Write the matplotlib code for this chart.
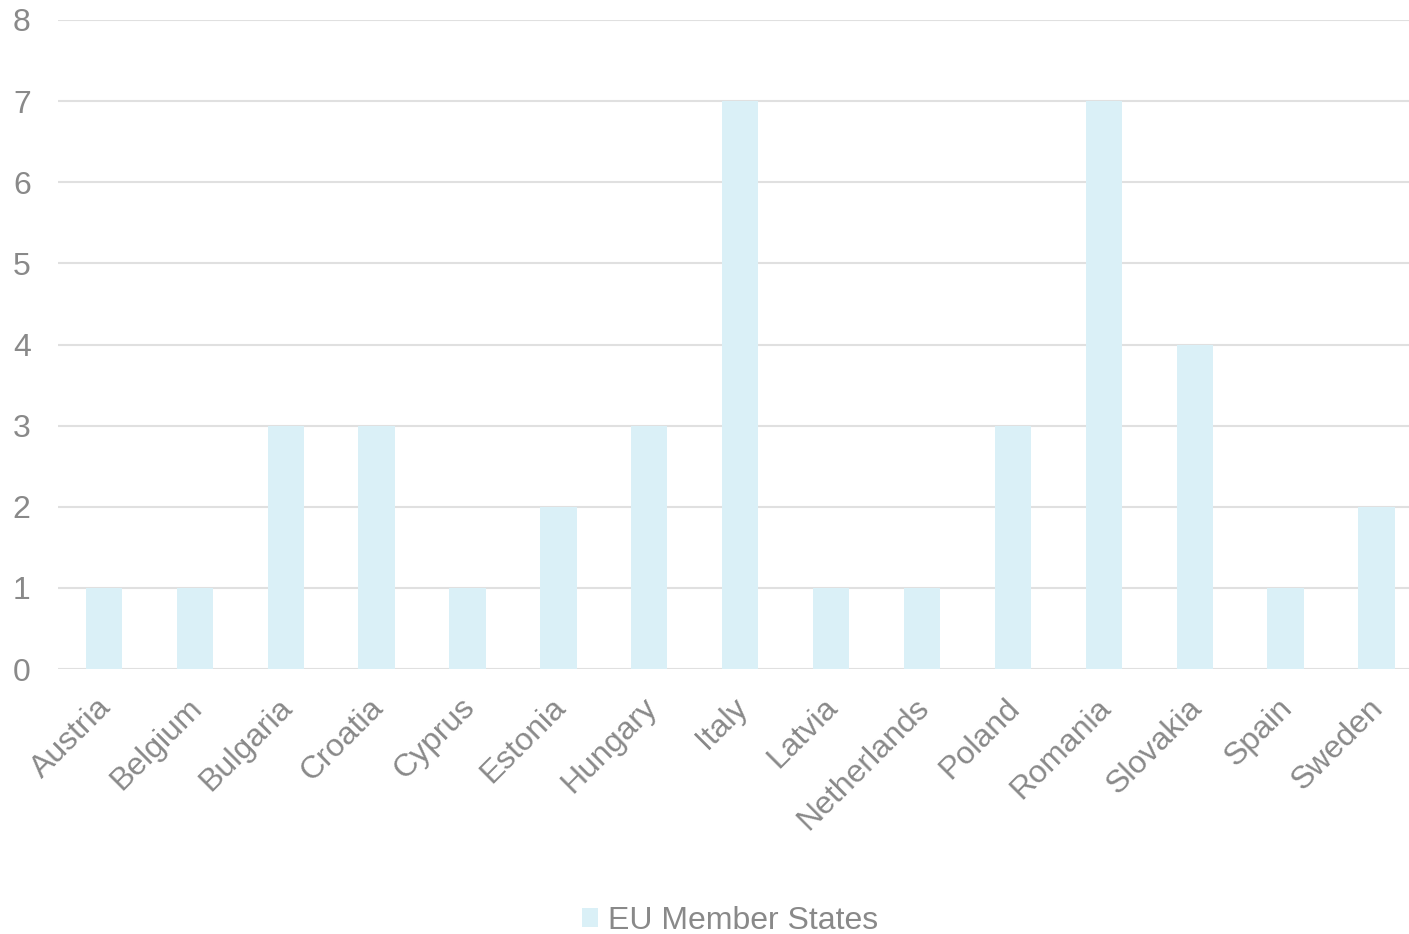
import matplotlib.pyplot as plt
import matplotlib.transforms as mtransforms
from matplotlib.patches import Patch

plt.rcParams['font.family'] = ['Liberation Sans', 'DejaVu Sans']

countries = ['Austria', 'Belgium', 'Bulgaria', 'Croatia', 'Cyprus', 'Estonia',
             'Hungary', 'Italy', 'Latvia', 'Netherlands', 'Poland', 'Romania',
             'Slovakia', 'Spain', 'Sweden']
counts = [1, 1, 3, 3, 1, 2, 3, 7, 1, 1, 3, 7, 4, 1, 2]

bar_color = '#daf0f7'
text_color = '#898989'
grid_color = '#e0e0e0'

fig = plt.figure(figsize=(14.09, 9.34), dpi=100)
# plot area runs a little past the right edge, as in the original
ax = fig.add_axes([0.0415, 0.2837, 0.9677, 0.6949])

x = range(len(countries))
ax.bar(x, counts, width=0.4, color=bar_color, zorder=2)

ax.set_xlim(-0.5, len(countries) - 0.5)
ax.set_ylim(0, 8)
ax.set_yticks(range(0, 9))
ax.yaxis.grid(True, color=grid_color, linewidth=1.5, zorder=0)
ax.set_axisbelow(True)

for s in ax.spines.values():
    s.set_visible(False)

ax.tick_params(axis='both', length=0, labelsize=23, colors=text_color)
ax.tick_params(axis='y', pad=20)
ax.set_xticks(list(x))
ax.set_xticklabels(countries, rotation=45, ha='right', rotation_mode='anchor')
ax.tick_params(axis='x', pad=17)

# nudge the rotated labels a bit to the left
shift = mtransforms.ScaledTranslation(-8 / 100, 0, fig.dpi_scale_trans)
for lbl in ax.get_xticklabels():
    lbl.set_transform(lbl.get_transform() + shift)

handle = Patch(facecolor=bar_color, edgecolor='none')
fig.legend([handle], ['EU Member States'], loc='center', bbox_to_anchor=(0.518, 0.014),
           frameon=False, fontsize=23, labelcolor=text_color,
           handlelength=0.5, handleheight=0.5, handletextpad=0.3)

fig.savefig('out.png', dpi=100)
